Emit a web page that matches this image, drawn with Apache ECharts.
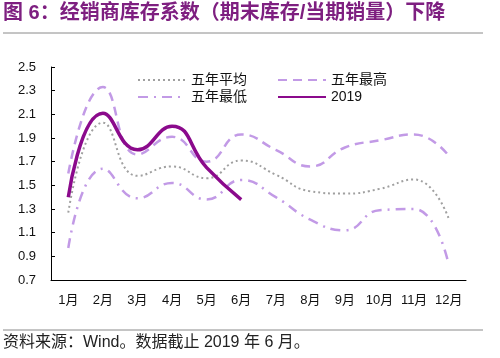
<!DOCTYPE html>
<html>
<head>
<meta charset="utf-8">
<script src="https://cdn.jsdelivr.net/npm/echarts@6/dist/echarts.min.js"></script>
<style>
html,body{margin:0;padding:0;background:#fff;}
#c{width:500px;height:358px;}
</style>
</head>
<body>
<div id="c"></div>
<script>
const months = ['1月','2月','3月','4月','5月','6月','7月','8月','9月','10月','11月','12月'];
const avg5 = [1.27, 2.03, 1.58, 1.66, 1.56, 1.71, 1.59, 1.45, 1.43, 1.47, 1.55, 1.22];
const max5 = [1.60, 2.33, 1.76, 1.91, 1.70, 1.93, 1.80, 1.66, 1.82, 1.88, 1.93, 1.75];
const min5 = [0.97, 1.64, 1.39, 1.52, 1.38, 1.545, 1.40, 1.21, 1.12, 1.29, 1.30, 0.83];
const y2019 = [1.40, 2.11, 1.80, 2.00, 1.65, 1.38];
const yMin = 0.7, yMax = 2.5, yStep = 0.2;

const chart = echarts.init(document.getElementById('c'), null, {renderer:'canvas'});
const lightPurple = '#c29ae6';
const legendBase = {
  left: 137, padding: 0, itemWidth: 48, itemHeight: 14, itemGap: 30,
  itemStyle: {opacity: 0},
  textStyle: {fontSize: 14, color: '#111'}
};
chart.setOption({
  animation: false,
  backgroundColor: '#fff',
  textStyle: {fontFamily: 'Liberation Sans, Noto Sans CJK SC, sans-serif'},
  graphic: [
    {type:'text', left: 3, top: 3, style:{text:'图 6：经销商库存系数（期末库存/当期销量）下降', fill:'#7e1f80', font:'bold 20px "Liberation Sans","Noto Sans CJK SC",sans-serif'}},
    {type:'line', shape:{x1:3,y1:33,x2:483,y2:33}, style:{stroke:'#8a8a8a', lineWidth:1}},
    {type:'line', shape:{x1:3,y1:330,x2:483,y2:330}, style:{stroke:'#8a8a8a', lineWidth:1}},
    {type:'text', left: 3, top: 335, style:{text:'资料来源：Wind。数据截止 2019 年 6 月。', fill:'#222', font:'16px "Liberation Sans","Noto Sans CJK SC",sans-serif'}}
  ],
  legend: [
    Object.assign({}, legendBase, {top: 73, data: ['五年平均','五年最高']}),
    Object.assign({}, legendBase, {top: 90, data: ['五年最低','2019']})
  ],
  grid: {left: 51, right: 34, top: 67, bottom: 78, containLabel: false},
  xAxis: {
    type: 'category', data: months, boundaryGap: true,
    axisLine: {lineStyle:{color:'#000', width:1}},
    axisTick: {inside:true, length:4, lineStyle:{color:'#000'}},
    axisLabel: {color:'#111', fontSize:13, margin:14, interval:0}
  },
  yAxis: {
    type: 'value', min: yMin, max: yMax, interval: yStep,
    axisLine: {show:true, lineStyle:{color:'#000', width:1}},
    axisTick: {show:true, inside:true, length:4, lineStyle:{color:'#000'}},
    splitLine: {show:false},
    axisLabel: {color:'#111', fontSize:13, margin:15, formatter: v => v.toFixed(1)}
  },
  series: [
    {name:'五年平均', type:'line', data: avg5, smooth: 0.5, symbol:'none',
     lineStyle:{color:'#a0a0a0', width:2, type:[2,3]}, itemStyle:{color:'#a0a0a0'}, z:2},
    {name:'五年最高', type:'line', data: max5, smooth: 0.5, symbol:'none',
     lineStyle:{color:lightPurple, width:2.5, type:[9,6]}, itemStyle:{color:lightPurple}, z:2},
    {name:'五年最低', type:'line', data: min5, smooth: 0.5, symbol:'none',
     lineStyle:{color:lightPurple, width:2.5, type:[10,6,2,6]}, itemStyle:{color:lightPurple}, z:2},
    {name:'2019', type:'line', data: y2019, smooth: 0.5, symbol:'none',
     lineStyle:{color:'#8b0a8c', width:3.5}, itemStyle:{color:'#8b0a8c'}, z:3}
  ]
});
</script>
</body>
</html>
